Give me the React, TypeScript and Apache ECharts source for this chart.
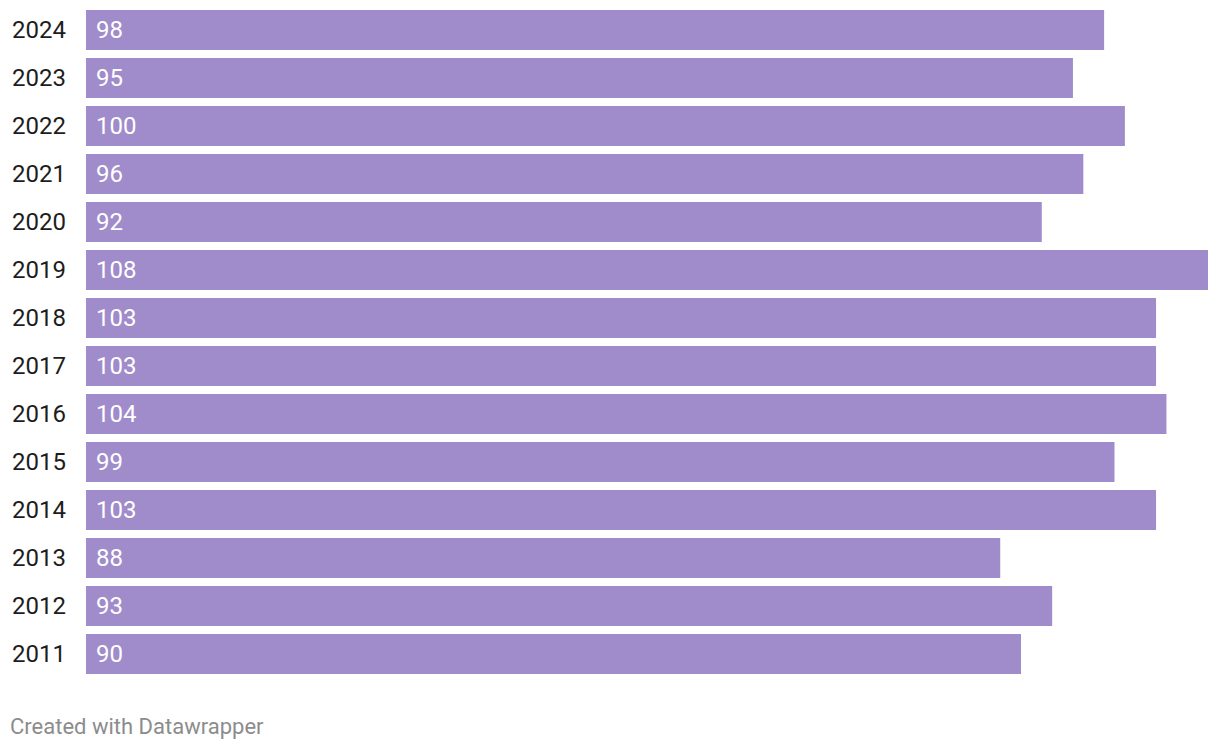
import React, { useEffect, useRef } from "react";
import * as echarts from "echarts";

const years = ["2024", "2023", "2022", "2021", "2020", "2019", "2018", "2017", "2016", "2015", "2014", "2013", "2012", "2011"];
const values = [98, 95, 100, 96, 92, 108, 103, 103, 104, 99, 103, 88, 93, 90];
const footer = "Created with Datawrapper";

export default function App() {
  const ref = useRef<HTMLDivElement>(null);
  useEffect(() => {
    const chart = echarts.init(ref.current!, null, { renderer: "svg" });
    chart.setOption({
      animation: false,
      textStyle: { fontFamily: "Roboto" },
      grid: { left: 86, right: 12, top: 6, height: 672 },
      xAxis: {
        type: "value",
        min: 0,
        max: 108,
        show: false,
      },
      yAxis: {
        type: "category",
        data: years,
        inverse: true,
        axisLine: { show: false },
        axisTick: { show: false },
        axisLabel: {
          align: "left",
          margin: 74,
          fontSize: 24,
          color: "#1d1d1d",
          fontFamily: "Roboto",
        },
      },
      series: [
        {
          type: "bar",
          data: values,
          barWidth: 40,
          itemStyle: { color: "#a08bcb" },
          label: {
            show: true,
            position: "insideLeft",
            distance: 10,
            color: "#ffffff",
            fontSize: 24,
            fontFamily: "Roboto",
          },
        },
      ],
      graphic: [
        {
          type: "text",
          left: 10,
          top: 715,
          style: { text: footer, fontSize: 22, fill: "#8c8c8c", fontFamily: "Roboto" },
        },
      ],
    });
    return () => chart.dispose();
  }, []);
  return <div ref={ref} style={{ position: "fixed", left: 0, top: 0, width: 1220, height: 750, background: "#fff" }} />;
}
